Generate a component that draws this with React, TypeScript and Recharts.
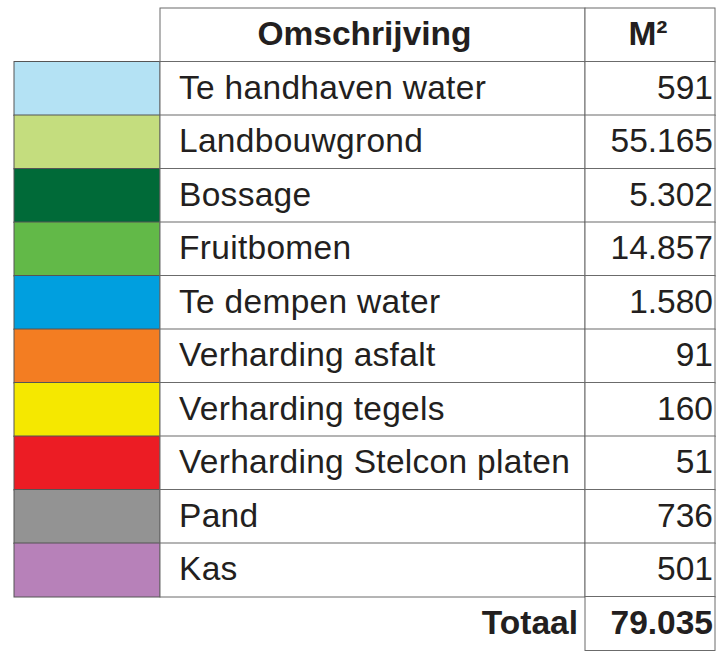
import React from 'react';
import { BarChart, Bar, XAxis, YAxis } from 'recharts';

const descriptions = [
  'Te handhaven water',
  'Landbouwgrond',
  'Bossage',
  'Fruitbomen',
  'Te dempen water',
  'Verharding asfalt',
  'Verharding tegels',
  'Verharding Stelcon platen',
  'Pand',
  'Kas',
];
const areas = [591, 55165, 5302, 14857, 1580, 91, 160, 51, 736, 501];
const swatchColors = [
  '#b4e2f4',
  '#c4dd7e',
  '#006a38',
  '#62b948',
  '#009fdf',
  '#f37d22',
  '#f5e800',
  '#ec1c24',
  '#939393',
  '#b781b9',
];
const totalArea = 79035;
const headers = ['Omschrijving', 'M²'];
const totalLabel = 'Totaal';

// column widths in px (x axis domain is the table width)
const SWATCH_W = 146;
const DESC_W = 425;
const VALUE_W = 130;
const FONT = '"Liberation Sans", Arial, sans-serif';
const FS = 33.5;
const LINE = '#6b6b6b';
const INK = '#231f20';

const fmt = (n: number) => String(n).replace(/\B(?=(\d{3})+(?!\d))/g, '.');

const rows = [
  { key: 'header', kind: 'header' },
  ...descriptions.map((name, i) => ({ key: name, kind: 'item', name, area: areas[i], color: swatchColors[i] })),
  { key: 'total', kind: 'total', area: totalArea },
];

const baseY = (y: number, h: number) => y + h / 2 + FS * 0.31;

function SwatchCell(props: any) {
  const { x, y, width, height, payload } = props;
  if (payload.kind !== 'item') return <g />;
  return <rect x={x} y={y} width={width} height={height} fill={payload.color} stroke="#555" strokeWidth={1} />;
}

function DescCell(props: any) {
  const { x, y, width, height, payload } = props;
  if (payload.kind === 'total') {
    return (
      <text x={x + width - 7} y={baseY(y, height)} textAnchor="end" fontFamily={FONT} fontSize={FS} fontWeight="bold" fill={INK}>
        {totalLabel}
      </text>
    );
  }
  const header = payload.kind === 'header';
  return (
    <g>
      <rect x={x} y={y} width={width} height={height} fill="#fff" stroke={LINE} strokeWidth={1} />
      <text
        x={header ? x + width / 2 - 8 : x + 19}
        y={baseY(y, height)}
        textAnchor={header ? 'middle' : 'start'}
        fontFamily={FONT}
        fontSize={FS}
        fontWeight={header ? 'bold' : 'normal'}
        letterSpacing={header ? 0 : 0.3}
        fill={INK}
      >
        {header ? headers[0] : payload.name}
      </text>
    </g>
  );
}

function ValueCell(props: any) {
  const { x, y, width, height, payload } = props;
  const header = payload.kind === 'header';
  const bold = payload.kind !== 'item';
  return (
    <g>
      <rect x={x} y={y} width={width} height={height} fill="#fff" stroke={LINE} strokeWidth={1} />
      <text
        x={header ? x + width / 2 - 2 : x + width - 2}
        y={baseY(y, height)}
        textAnchor={header ? 'middle' : 'end'}
        fontFamily={FONT}
        fontSize={FS}
        fontWeight={bold ? 'bold' : 'normal'}
        fill={INK}
      >
        {header ? headers[1] : fmt(payload.area)}
      </text>
    </g>
  );
}

export default function App() {
  return (
    <div style={{ position: 'absolute', left: 0, top: 0, background: '#fff' }}>
      <BarChart
        width={726}
        height={651}
        data={rows}
        layout="vertical"
        margin={{ top: 8, right: 11, bottom: 1, left: 14 }}
        barCategoryGap={0}
      >
        <XAxis type="number" domain={[0, SWATCH_W + DESC_W + VALUE_W]} hide />
        <YAxis type="category" dataKey="key" hide />
        <Bar dataKey={() => SWATCH_W} stackId="t" shape={SwatchCell} isAnimationActive={false} />
        <Bar dataKey={() => DESC_W} stackId="t" shape={DescCell} isAnimationActive={false} />
        <Bar dataKey={() => VALUE_W} stackId="t" shape={ValueCell} isAnimationActive={false} />
      </BarChart>
    </div>
  );
}
